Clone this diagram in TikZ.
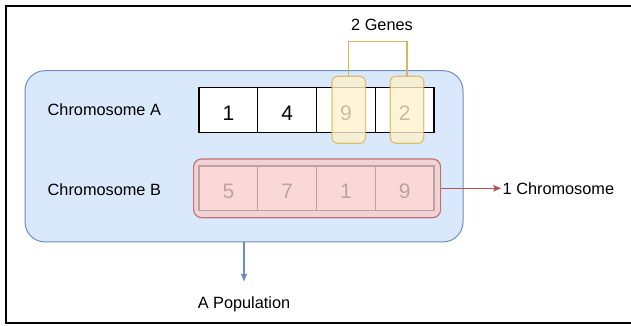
\documentclass[tikz,border=0pt]{standalone}
\usepackage{fontspec}
\setmainfont{Liberation Sans}
\usetikzlibrary{positioning,arrows.meta}

\definecolor{popfill}{HTML}{DAE8FC}
\definecolor{popline}{HTML}{6C8EBF}
\definecolor{genefill}{HTML}{FFF2CC}
\definecolor{geneline}{HTML}{D6B656}
\definecolor{chromfill}{HTML}{F8CECC}
\definecolor{chromline}{HTML}{B85450}

\begin{document}
\begin{tikzpicture}[x=1pt,y=-1pt,>={Stealth[length=8pt,width=6.5pt,inset=1.5pt]},
  txt/.style={font=\fontsize{16.3}{19}\selectfont,inner sep=0pt},
  cell/.style={draw,line width=1.2pt,fill=white,minimum width=58.75pt,minimum height=44.5pt,
    inner sep=0pt,outer sep=0pt,text height=20.5pt,text depth=0pt,font=\fontsize{21}{24}\selectfont},
  pop/.style={draw=popline,fill=popfill,line width=1pt,rounded corners=20pt,
    minimum width=438pt,minimum height=171.3pt},
  chromo/.style={draw=chromline,fill=chromfill,line width=1.2pt,opacity=0.78,rounded corners=8pt,
    minimum width=247pt,minimum height=58.7pt},
  gene/.style={draw=geneline,fill=genefill,line width=1.2pt,opacity=0.78,rounded corners=5pt,
    minimum width=33.4pt,minimum height=67pt}]
 %\useasboundingbox
 \path[use as bounding box] (0,0) rectangle (631,325);
 \draw[line width=2pt] (631,6) -- (6,6) -- (6,323) -- (631,323);

 \node[pop] (popu) at (244,156.3) {};

 \node[txt] (labA) at (104.3,110) {Chromosome A};
 \node[txt] (labB) at (104.3,189.5) {Chromosome B};

 \node[cell] (a1) at (228.4,110)   {1};
 \node[cell] (a2) [right=0pt of a1] {4};
 \node[cell] (a3) [right=0pt of a2] {9};
 \node[cell] (a4) [right=0pt of a3] {2};

 \node[cell] (b1) at (228.4,188.3) {5};
 \node[cell] (b2) [right=0pt of b1] {7};
 \node[cell] (b3) [right=0pt of b2] {1};
 \node[cell] (b4) [right=0pt of b3] {9};

 \node[chromo] (chromb) at (317.1,188.3) {};
 \node[gene] (g1) at (348.7,109.8) {};
 \node[gene] (g2) at (407,109.8)   {};

 \node[txt] (genes) at (382,25) {2 Genes};
 \node[txt,outer xsep=1.5pt] (onechrom) [right=60pt of chromb.east] {1 Chromosome};
 \node[txt,outer ysep=15.5pt] (popname) [below=39pt of popu.south] {A Population};

 \draw[geneline,line width=1.2pt] (g1.north) -- ++(0,-34) -| (g2.north);
 \draw[->,chromline,line width=1.2pt] (chromb.east) -- (onechrom.west);
 \draw[->,popline,line width=1.2pt] (popu.south) -- (popname.north);
\end{tikzpicture}
\end{document}
